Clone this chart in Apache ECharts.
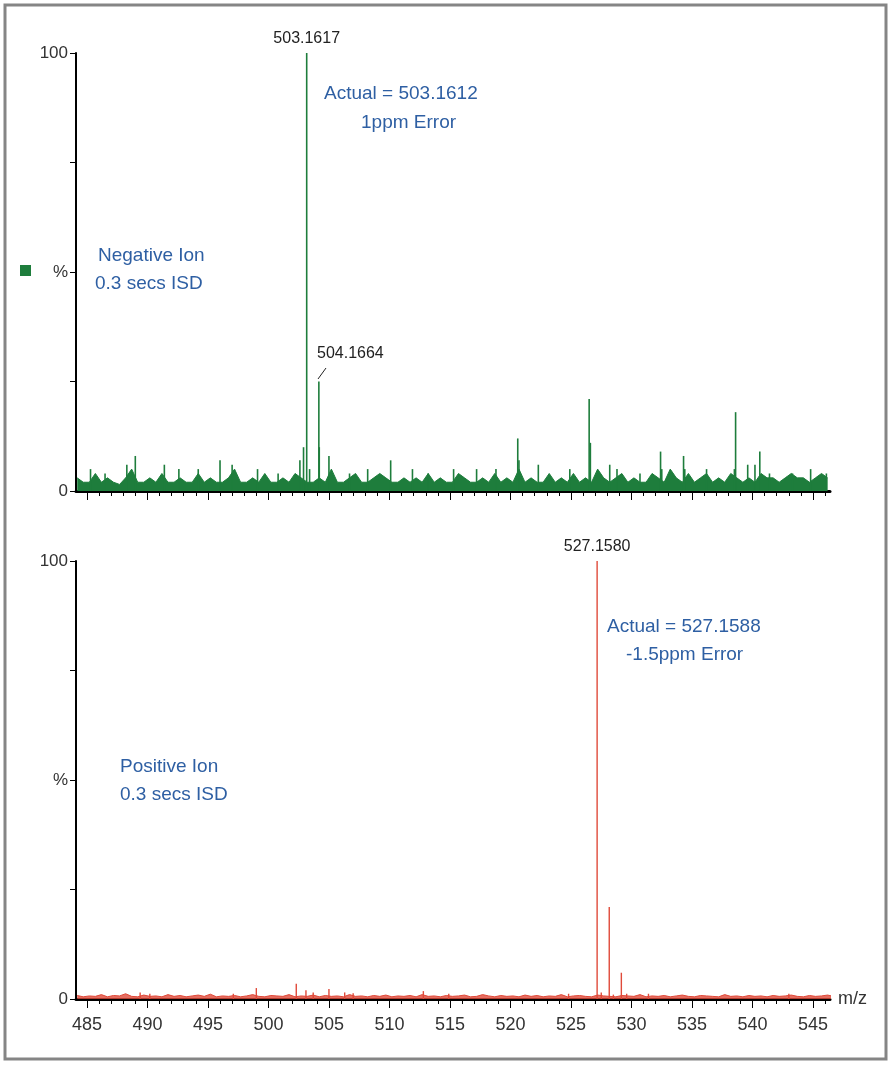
<!DOCTYPE html>
<html><head><meta charset="utf-8">
<script src="https://cdn.jsdelivr.net/npm/echarts@6/dist/echarts.min.js"></script>
<style>html,body{margin:0;padding:0;background:#fff}#c{width:892px;height:1065px}</style>
</head><body><div id="c"></div>
<script>
// m/z range
const mzMin = 484.1, mzMax = 546.4;
const labelTicks = [485,490,495,500,505,510,515,520,525,530,535,540,545];
// negative ion: noise baseline (m/z start 484.2, step 0.5)
const negNoiseStart = 484.2, noiseStep = 0.5;
const negNoise = [3,2,2,4,2,3,2,1.5,3,5,2,2,3,2,4,2,2,3,2,2,4,2,3,2,2,3,5,2,2,3,2,4,2,2,3,2,4,3,2,2,
 3,2,5,2,2,3,4,2,2,3,4,3,2,2,3,2,3,2,4,2,3,2,2,4,3,2,2,3,2,4,2,3,2,5,2,3,2,2,4,2,
 3,2,4,2,3,2,5,3,2,3,4,2,3,2,2,4,3,2,5,3,2,4,2,3,4,2,3,2,4,3,2,3,2,4,3,3,2,3,4,3,3,2,3,4,3];
// negative ion: distinct peaks [m/z, %]
const negPeaks = [[485.3,5],[486.5,4],[488.3,6],[489.0,8],[491.4,6],[492.6,5],[494.2,5],[496.0,7],[497.0,6],
 [499.1,5],[500.8,4],[502.6,7],[502.9,10],[503.1617,100],[503.4,5],[504.1664,25],[504.2,10],[505.0,8],
 [506.7,4],[508.2,5],[510.1,7],[511.9,5],[513.2,4],[515.3,5],[517.2,5],[518.8,5],[520.6,12],[520.7,7],
 [522.3,6],[524.9,5],[526.5,21],[526.6,11],[528.2,6],[528.8,5],[530.7,4],[532.4,9],[532.5,5],[534.3,8],
 [534.4,5],[536.2,5],[538.6,18],[538.5,5],[539.6,6],[540.2,6],[540.6,9],[541.4,4],[543.3,4],[544.8,5],[546.1,4]];
// positive ion: noise baseline
const posNoise = [0.8,0.5,0.7,0.6,1,0.5,0.8,0.7,1.2,0.6,0.5,0.9,0.6,0.7,0.5,1,0.6,0.8,0.5,0.7,0.9,0.6,1.1,0.5,0.7,0.6,0.8,0.5,
 0.7,1,0.6,0.5,0.8,0.7,0.6,1,0.5,0.7,0.6,0.9,0.5,0.8,0.6,0.7,0.5,1,0.6,0.7,0.5,0.8,0.6,0.9,0.5,0.7,0.6,0.8,0.5,1,
 0.6,0.7,0.5,0.8,0.6,0.7,0.9,0.5,0.6,1,0.7,0.5,0.8,0.6,0.7,0.5,0.9,0.6,0.8,0.5,0.7,0.6,1,0.5,0.7,0.8,0.6,0.5,0.9,
 0.7,0.6,0.5,0.8,0.7,0.6,1,0.5,0.7,0.6,0.8,0.5,0.7,0.9,0.6,0.5,0.8,0.7,0.6,0.5,1,0.6,0.7,0.5,0.8,0.6,0.7,0.5,0.8,0.6,0.7,0.9,0.6,0.5,0.8,0.6,0.7,0.9,0.6,0.8,0.7];
const posPeaks = [[489.4,1.5],[490.2,1.2],[497.1,1.2],[499.0,2.5],[502.3,3.5],[503.1,2],[503.7,1.5],[505.0,2.3],
 [506.3,1.5],[507.0,1.3],[512.8,1.8],[514.9,1.2],[524.8,1.2],[527.158,100],[527.5,1.5],[528.16,21],[528.5,1],
 [529.16,6],[529.6,1.2],[531.4,1.2],[543.0,1.2]];

const negNoiseData = negNoise.map((v,i)=>[negNoiseStart+i*noiseStep, v]);
const posNoiseData = posNoise.map((v,i)=>[negNoiseStart+i*noiseStep, v]);
const green = '#1e7d3c', red = '#e04a3a', blue = '#2e5fa3';
const intTicks = []; for (let t=485; t<=546; t++) intTicks.push(t);

const chart = echarts.init(document.getElementById('c'));
const font = 'Liberation Sans, Arial, sans-serif';
function yAxis(gi){ return {type:'value', gridIndex:gi, min:0, max:100, interval:25,
  axisLine:{show:true, lineStyle:{color:'#000', width:2}}, axisTick:{show:true, length:6, lineStyle:{color:'#000'}},
  splitLine:{show:false},
  axisLabel:{fontFamily:font, fontSize:17, color:'#333', formatter:v=>v===100?'100':v===50?'%':v===0?'0':''}}; }
function xAxisMinor(gi){ return {type:'value', gridIndex:gi, position:'bottom', min:mzMin, max:mzMax,
  axisLine:{show:true, onZero:false, lineStyle:{color:'#000', width:3}},
  axisTick:{show:true, length:5, customValues:intTicks, lineStyle:{color:'#000'}},
  axisLabel:{show:false}, splitLine:{show:false}}; }
function xAxisMajor(gi, labels){ return {type:'value', gridIndex:gi, position:'bottom', min:mzMin, max:mzMax,
  axisLine:{show:false, onZero:false}, name: labels?'m/z':'', nameLocation:'end', nameGap:8,
  nameTextStyle:{fontFamily:font, fontSize:18, color:'#333', verticalAlign:'middle'},
  axisTick:{show:true, length:9, customValues:labelTicks, lineStyle:{color:'#000'}},
  axisLabel:labels?{show:true, customValues:labelTicks, fontFamily:font, fontSize:18, color:'#333', margin:17}:{show:false},
  splitLine:{show:false}}; }
function noise(xi, yi, data, color, op){ return {type:'line', xAxisIndex:xi, yAxisIndex:yi, data, symbol:'none',
  lineStyle:{color, width:1}, areaStyle:{color, opacity:op}, z:2, silent:true}; }
function peaks(xi, yi, data, color, w){ return {type:'bar', xAxisIndex:xi, yAxisIndex:yi, data, barWidth:w,
  itemStyle:{color}, z:3, silent:true, barGap:'-100%'}; }

const negData = negPeaks.map(p=>p[0]===503.1617?{value:p, label:{show:true, position:'top', distance:6, formatter:'503.1617', fontFamily:font, fontSize:16, color:'#222'}}:p);
const posData = posPeaks.map(p=>p[0]===527.158?{value:p, label:{show:true, position:'top', distance:6, formatter:'527.1580', fontFamily:font, fontSize:16, color:'#222'}}:p);

chart.setOption({
  animation:false,
  grid:[{left:76, right:62, top:53, height:438},{left:76, right:62, top:561, height:438}],
  xAxis:[xAxisMinor(0), xAxisMajor(0,false), xAxisMinor(1), xAxisMajor(1,true)],
  yAxis:[yAxis(0), yAxis(1)],
  series:[
    noise(0,0,negNoiseData,green,1), peaks(0,0,negData,green,1.6),
    noise(2,1,posNoiseData,red,0.8), peaks(2,1,posData,red,1.4)
  ],
  graphic:[
    {type:'rect', shape:{x:5, y:5, width:881, height:1054}, style:{fill:'none', stroke:'#858585', lineWidth:3}, silent:true},
    {type:'rect', shape:{x:20, y:265, width:11, height:11}, style:{fill:green}},
    {type:'text', x:324, y:84, style:{text:'Actual = 503.1612', fill:blue, font:'19px '+font}},
    {type:'text', x:361, y:113, style:{text:'1ppm Error', fill:blue, font:'19px '+font}},
    {type:'text', x:98, y:246, style:{text:'Negative Ion', fill:blue, font:'19px '+font}},
    {type:'text', x:95, y:274, style:{text:'0.3 secs ISD', fill:blue, font:'19px '+font}},
    {type:'text', x:317, y:346, style:{text:'504.1664', fill:'#222', font:'16px '+font}},
    {type:'line', shape:{x1:326, y1:368, x2:318, y2:379}, style:{stroke:'#222', lineWidth:1}},
    {type:'text', x:607, y:617, style:{text:'Actual = 527.1588', fill:blue, font:'19px '+font}},
    {type:'text', x:626, y:645, style:{text:'-1.5ppm Error', fill:blue, font:'19px '+font}},
    {type:'text', x:120, y:757, style:{text:'Positive Ion', fill:blue, font:'19px '+font}},
    {type:'text', x:120, y:785, style:{text:'0.3 secs ISD', fill:blue, font:'19px '+font}}
  ]
});
</script></body></html>
